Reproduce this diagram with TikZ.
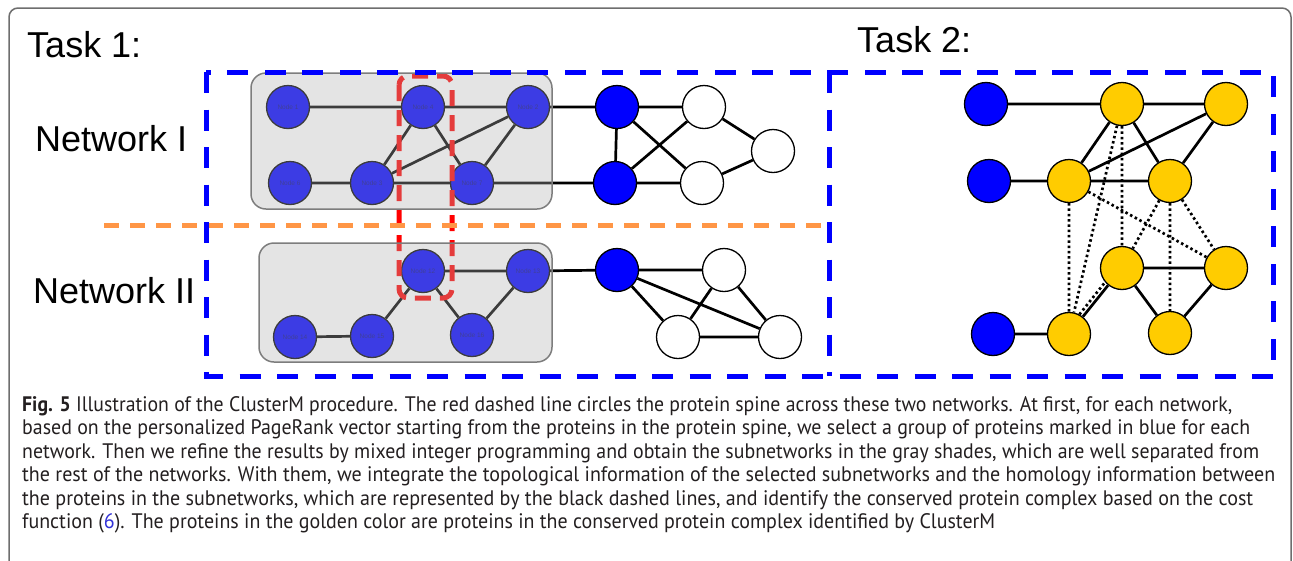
\documentclass[tikz,border=0pt]{standalone}
\usepackage{fontspec}
\usepackage{graphicx}
\setmainfont{Liberation Sans}
\newfontfamily\capfont{PT Sans}
\definecolor{nblue}{RGB}{0,0,255}
\definecolor{gold}{RGB}{255,204,0}
\definecolor{boxgray}{RGB}{178,178,178}
\definecolor{boxedge}{RGB}{125,125,125}
\definecolor{lblue}{RGB}{5,5,140}
\definecolor{orng}{RGB}{255,150,70}
\definecolor{captxt}{RGB}{35,31,32}
\definecolor{linkblue}{RGB}{50,50,215}
\definecolor{frame}{RGB}{110,110,110}
\newcommand{\capln}[2]{\resizebox{#1pt}{\height}{\capfont\fontsize{21}{24}\selectfont #2}}
\begin{document}
\begin{tikzpicture}[x=1pt,y=-1pt,
  nd/.style={circle,draw=black,line width=1.3pt,minimum size=43pt,inner sep=0pt},
  bnode/.style={nd,fill=nblue},
  wnode/.style={nd,fill=white},
  ynode/.style={nd,fill=gold},
  gnode/.style={nd,fill=nblue,text=lblue,font=\fontsize{6.5}{7}\selectfont},
  edge/.style={line width=2.7pt,black},
  hom/.style={line width=2.7pt,black,dash pattern=on 2.5pt off 2.8pt},
  bluedash/.style={nblue,line width=5pt,dash pattern=on 21pt off 16.5pt},
  orangedash/.style={orng,line width=5pt,dash pattern=on 15pt off 11pt},
  reddash/.style={red,line width=5pt,dash pattern=on 16pt off 9pt,rounded corners=9pt},
  graybox/.style={fill=boxgray,fill opacity=0.34,draw=boxedge,draw opacity=1,line width=1.5pt,rounded corners=15pt},
  bigtxt/.style={anchor=base west,inner sep=0pt,font=\fontsize{36}{40}\selectfont},
  capline/.style={anchor=base west,inner sep=0pt,text=captxt}
]
\clip (0,0) rectangle (1293,560);
\useasboundingbox (0,0) rectangle (1293,560);
\fill[white] (0,0) rectangle (1293,560);
\draw[frame,line width=1.5pt,rounded corners=9pt] (9,8) rectangle (1291,640);

% texts
\node[bigtxt] (task1) at (27,57) {Task 1:};
\node[bigtxt] (task2) at (857,52) {Task 2:};
\node[bigtxt] (net1) at (35,151) {Network I};
\node[bigtxt] (net2) at (33,303) {Network II};

% Network I, gray subnetwork
\node[gnode] (g1) at (288,107) {Node 1};
\node[gnode] (g4) at (423,107) {Node 4};
\node[gnode] (g2) at (528,107) {Node 2};
\node[gnode] (g6) at (290,183) {Node 6};
\node[gnode] (g3) at (372,183) {Node 3};
\node[gnode] (g7) at (472,183) {Node 7};
% Network I, rest
\node[bnode] (b1) at (617,107) {};
\node[bnode] (b2) at (615,183) {};
\node[wnode] (w1) at (704,107) {};
\node[wnode] (w2) at (702,183) {};
\node[wnode] (w3) at (773,151) {};
% Network II, gray subnetwork
\node[gnode] (g12) at (423,271) {Node 12};
\node[gnode] (g13) at (528,271) {Node 13};
\node[gnode] (g14) at (295,337) {Node 14};
\node[gnode] (g15) at (372,336) {Node 15};
\node[gnode] (g16) at (472,335) {Node 16};
% Network II, rest
\node[bnode] (b3) at (617,270) {};
\node[wnode] (w4) at (724,270) {};
\node[wnode] (w5) at (678,337) {};
\node[wnode] (w6) at (780,337) {};
% Task 2
\node[bnode] (t1) at (986,104) {};
\node[ynode] (y1) at (1122,104) {};
\node[ynode] (y2) at (1226,104) {};
\node[bnode] (t2) at (989,181) {};
\node[ynode] (y3) at (1069,181) {};
\node[ynode] (y4) at (1170,181) {};
\node[ynode] (y5) at (1122,268) {};
\node[ynode] (y6) at (1226,268) {};
\node[bnode] (t3) at (993,334) {};
\node[ynode] (y7) at (1069,334) {};
\node[ynode] (y8) at (1170,333) {};

% edges Network I
\draw[edge] (g1) -- (g4) (g4) -- (g2) (g4) -- (g3) (g4) -- (g7) (g2) -- (g3) (g2) -- (g7) (g6) -- (g3) (g3) -- (g7);
\draw[edge] (g2) -- (b1) (g7) -- (b2) (b1) -- (w1) (b1) -- (b2) (b1) -- (w2) (b2) -- (w1) (b2) -- (w2) (w1) -- (w3) (w2) -- (w3);
% edges Network II
\draw[edge] (g12) -- (g13) (g12) -- (g15) (g12) -- (g16) (g13) -- (g16) (g14) -- (g15);
\draw[edge] (g13) -- (b3) (b3) -- (w4) (b3) -- (w5) (b3) -- (w6) (w4) -- (w5) (w4) -- (w6) (w5) -- (w6);
% edges Task 2
\draw[edge] (t1) -- (y1) (y1) -- (y2) (y1) -- (y3) (y1) -- (y4) (y2) -- (y3) (y2) -- (y4) (t2) -- (y3) (y3) -- (y4);
\draw[edge] (y5) -- (y6) (y5) -- (y7) (y5) -- (y8) (y6) -- (y8) (t3) -- (y7);
\draw[hom] (y1) -- (y5) (y1) -- (y7) (y3) -- (y7) (y3) -- (y6) (y4) -- (y5) (y4) -- (y8) (y4) -- (y6) (y7.62) -- (y5.220);

% protein spine (under the gray shading)
\draw[reddash] (399,76) rectangle (452,298);

% gray shades
\draw[graybox] (251,73) rectangle (552,209);
\draw[graybox] (259,243) rectangle (552,362);

% dashed frames
\draw[orangedash] (104,225) -- (830,225);
\draw[bluedash] (206,72) rectangle (1273,376);
\draw[bluedash] (829,72) -- (829,376);

% caption
\begin{scope}[every node/.style={capline}]
\node (c1) at (22,411) {\capln{1210}{\textbf{Fig. 5} Illustration of the ClusterM procedure. The red dashed line circles the protein spine across these two networks. At first, for each network,}};
\node (c2) at (22,434.5) {\capln{1228}{based on the personalized PageRank vector starting from the proteins in the protein spine, we select a group of proteins marked in blue for each}};
\node (c3) at (22,458) {\capln{1237}{network. Then we refine the results by mixed integer programming and obtain the subnetworks in the gray shades, which are well separated from}};
\node (c4) at (22,481.5) {\capln{1253}{the rest of the networks. With them, we integrate the topological information of the selected subnetworks and the homology information between}};
\node (c5) at (22,505) {\capln{1231}{the proteins in the subnetworks, which are represented by the black dashed lines, and identify the conserved protein complex based on the cost}};
\node (c6) at (22,528.5) {\capln{973}{function (\textcolor{linkblue}{6}). The proteins in the golden color are proteins in the conserved protein complex identified by ClusterM}};
\end{scope}
\end{tikzpicture}
\end{document}
